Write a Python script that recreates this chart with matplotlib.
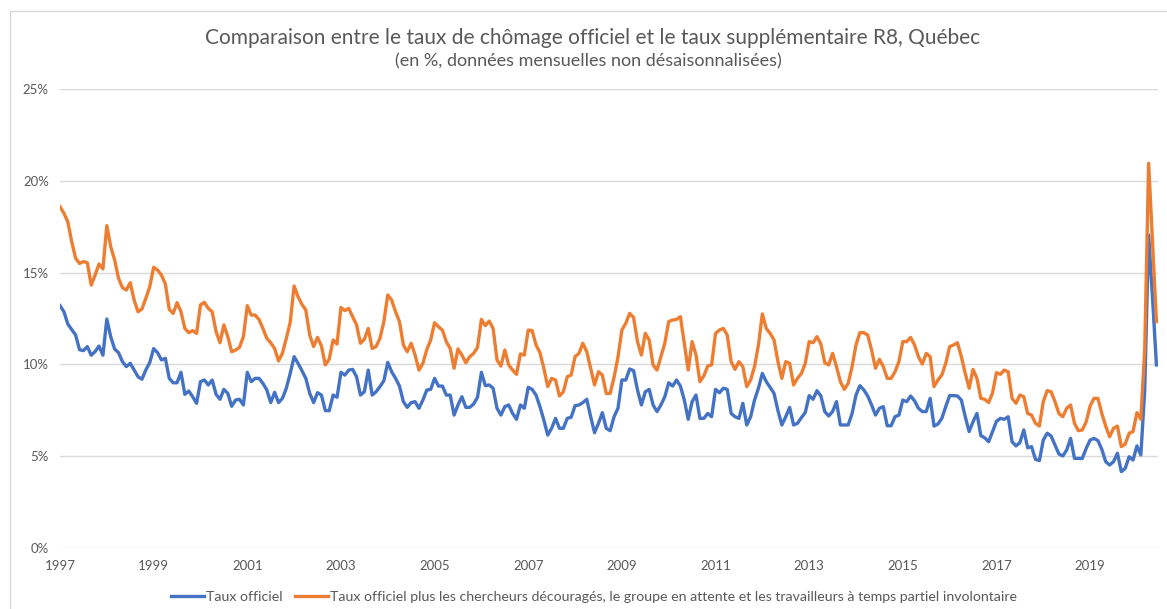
import matplotlib
matplotlib.use("Agg")
import matplotlib.pyplot as plt
from matplotlib.patches import Rectangle

plt.rcParams['font.family'] = ['Lato', 'DejaVu Sans']

# monthly values, Jan 1997 to Jun 2020 (%)
taux_officiel = [
    13.2, 12.87, 12.2, 11.9, 11.6, 10.8, 10.75, 10.97, 10.5, 10.7, 11.0, 10.5,      # 1997
    12.47, 11.5, 10.84, 10.64, 10.15, 9.88, 10.06, 9.7, 9.33, 9.19, 9.7, 10.1,      # 1998
    10.86, 10.64, 10.24, 10.33, 9.24, 9.0, 9.0, 9.57, 8.37, 8.55, 8.24, 7.88,       # 1999
    9.06, 9.15, 8.88, 9.15, 8.37, 8.1, 8.64, 8.42, 7.72, 8.06, 8.1, 7.79,           # 2000
    9.57, 9.06, 9.24, 9.24, 8.97, 8.61, 7.92, 8.48, 7.92, 8.15, 8.7, 9.51,          # 2001
    10.42, 10.06, 9.66, 9.24, 8.42, 7.92, 8.46, 8.33, 7.48, 7.48, 8.33, 8.21,       # 2002
    9.57, 9.42, 9.69, 9.73, 9.33, 8.33, 8.51, 9.69, 8.33, 8.51, 8.79, 9.11,         # 2003
    10.11, 9.6, 9.24, 8.82, 7.97, 7.66, 7.92, 7.97, 7.61, 8.06, 8.6, 8.64,          # 2004
    9.24, 8.82, 8.82, 8.33, 8.33, 7.24, 7.79, 8.24, 7.66, 7.66, 7.84, 8.21,         # 2005
    9.57, 8.84, 8.88, 8.7, 7.61, 7.24, 7.7, 7.79, 7.33, 7.01, 7.79, 7.61,           # 2006
    8.75, 8.64, 8.33, 7.7, 6.97, 6.15, 6.52, 7.06, 6.52, 6.52, 7.06, 7.12,          # 2007
    7.75, 7.79, 7.92, 8.1, 7.15, 6.28, 6.79, 7.37, 6.52, 6.39, 7.15, 7.61,          # 2008
    9.15, 9.15, 9.75, 9.66, 8.61, 7.79, 8.51, 8.64, 7.79, 7.43, 7.79, 8.24,         # 2009
    9.0, 8.82, 9.15, 8.82, 8.06, 7.01, 7.97, 8.33, 7.06, 7.06, 7.33, 7.15,          # 2010
    8.64, 8.46, 8.7, 8.64, 7.33, 7.15, 7.06, 7.88, 6.7, 7.15, 8.06, 8.7,            # 2011
    9.51, 9.06, 8.75, 8.42, 7.48, 6.7, 7.15, 7.66, 6.7, 6.79, 7.1, 7.38,            # 2012
    8.3, 8.1, 8.57, 8.28, 7.43, 7.19, 7.43, 7.97, 6.7, 6.7, 6.7, 7.33,              # 2013
    8.33, 8.84, 8.61, 8.28, 7.79, 7.24, 7.61, 7.7, 6.66, 6.66, 7.15, 7.24,          # 2014
    8.06, 7.97, 8.28, 8.02, 7.61, 7.43, 7.43, 8.15, 6.64, 6.75, 7.06, 7.7,          # 2015
    8.3, 8.3, 8.28, 8.06, 7.15, 6.34, 6.88, 7.33, 6.12, 6.0, 5.79, 6.35,            # 2016
    6.9, 7.06, 7.01, 7.15, 5.79, 5.56, 5.74, 6.43, 5.46, 5.52, 4.83, 4.76,          # 2017
    5.88, 6.25, 6.1, 5.61, 5.12, 5.01, 5.34, 5.97, 4.88, 4.88, 4.88, 5.43,          # 2018
    5.88, 5.97, 5.85, 5.37, 4.7, 4.52, 4.7, 5.16, 4.16, 4.34, 4.97, 4.79,           # 2019
    5.56, 5.07, 8.6, 17.05, 13.6, 9.97,                                             # 2020
]

taux_r8 = [
    18.59, 18.23, 17.77, 16.68, 15.78, 15.5, 15.6, 15.54, 14.32, 14.87, 15.47, 15.2,
    17.56, 16.41, 15.69, 14.69, 14.18, 14.05, 14.45, 13.5, 12.87, 13.02, 13.6, 14.23,
    15.29, 15.14, 14.87, 14.38, 13.0, 12.78, 13.36, 12.87, 11.96, 11.73, 11.84, 11.69,
    13.24, 13.38, 13.05, 12.87, 11.78, 11.18, 12.15, 11.51, 10.69, 10.78, 10.93, 11.51,
    13.2, 12.69, 12.69, 12.45, 11.96, 11.42, 11.18, 10.87, 10.19, 10.6, 11.42, 12.29,
    14.27, 13.69, 13.27, 12.96, 11.6, 10.97, 11.47, 11.0, 9.97, 10.29, 11.33, 11.11,
    13.1, 12.93, 13.05, 12.6, 12.15, 11.15, 11.37, 11.96, 10.87, 10.97, 11.42, 12.33,
    13.78, 13.5, 12.87, 12.33, 11.06, 10.69, 11.15, 10.51, 9.69, 10.06, 10.8, 11.33,
    12.27, 12.05, 11.87, 11.24, 10.87, 9.79, 10.84, 10.51, 10.09, 10.42, 10.6, 10.93,
    12.45, 12.11, 12.36, 11.96, 10.24, 9.91, 10.78, 9.97, 9.69, 9.46, 10.57, 10.51,
    11.87, 11.84, 11.06, 10.64, 9.79, 8.79, 9.24, 9.15, 8.28, 8.51, 9.33, 9.42,
    10.42, 10.6, 11.15, 10.69, 9.79, 8.88, 9.6, 9.42, 8.42, 8.42, 9.3, 10.4,
    11.87, 12.24, 12.78, 12.56, 11.24, 10.51, 11.69, 11.33, 9.97, 9.69, 10.42, 11.15,
    12.33, 12.42, 12.45, 12.6, 11.15, 9.69, 11.24, 10.51, 9.06, 9.37, 9.91, 9.97,
    11.69, 11.87, 11.96, 11.6, 10.15, 9.73, 10.15, 9.88, 8.79, 9.15, 9.88, 11.06,
    12.75, 11.96, 11.69, 11.33, 10.15, 9.24, 10.15, 10.06, 8.88, 9.24, 9.5, 10.06,
    11.24, 11.18, 11.51, 11.11, 10.09, 9.97, 10.6, 9.88, 9.06, 8.64, 8.97, 9.88,
    11.06, 11.73, 11.73, 11.6, 10.78, 9.79, 10.28, 9.88, 9.24, 9.24, 9.6, 10.15,
    11.24, 11.24, 11.47, 11.06, 10.42, 10.02, 10.6, 10.42, 8.79, 9.15, 9.42, 10.06,
    10.97, 11.06, 11.18, 10.42, 9.51, 8.7, 9.73, 9.24, 8.15, 8.1, 7.92, 8.45,
    9.55, 9.46, 9.69, 9.6, 8.15, 7.88, 8.33, 8.24, 7.33, 7.24, 6.79, 6.64,
    7.97, 8.57, 8.51, 7.97, 7.33, 7.15, 7.61, 7.79, 6.79, 6.39, 6.43, 6.88,
    7.73, 8.15, 8.15, 7.33, 6.64, 6.06, 6.52, 6.64, 5.52, 5.66, 6.25, 6.34,
    7.37, 7.01, 10.8, 20.95, 16.6, 12.33,
]

year_labels = ['1997', '1999', '2001', '2003', '2005', '2007',
               '2009', '2011', '2013', '2015', '2017', '2019']
y_ticks = [0, 5, 10, 15, 20, 25]

label_officiel = 'Taux officiel'
label_r8 = ('Taux officiel plus les chercheurs découragés, le groupe en attente '
            'et les travailleurs à temps partiel involontaire')

grey = '#595959'
W, H = 1167, 609

fig = plt.figure(figsize=(W / 100, H / 100), dpi=100)
fig.patches.append(Rectangle((10 / W, -0.1), 1.2, 1 - 11 / H + 0.1, transform=fig.transFigure,
                             fill=False, edgecolor='#d9d9d9', lw=1))

ax = fig.add_axes([60 / W, 1 - 548 / H, (1158 - 60) / W, (548 - 89) / H])

months = range(len(taux_officiel))
ax.plot(months, taux_officiel, color='#4472C4', lw=2.4, label=label_officiel, solid_joinstyle='round')
ax.plot(months, taux_r8, color='#ED7D31', lw=2.4, label=label_r8, solid_joinstyle='round')

ax.set_ylim(0, 25)
ax.set_xlim(0, 281.4)
ax.set_yticks(y_ticks)
ax.set_yticklabels([f'{t}%' for t in y_ticks])
ax.set_xticks([24 * k for k in range(len(year_labels))])
ax.set_xticklabels(year_labels)
ax.tick_params(axis='both', length=0, colors=grey, labelsize=9.5)
ax.tick_params(axis='x', pad=9)
ax.tick_params(axis='y', pad=8)
ax.grid(axis='y', color='#d9d9d9', lw=1)
ax.set_axisbelow(True)
for s in ax.spines.values():
    s.set_visible(False)

fig.text(593 / W, 1 - 38 / H, 'Comparaison entre le taux de chômage officiel et le taux supplémentaire R8, Québec',
         ha='center', va='center', fontsize=15, color=grey)
fig.text(588 / W, 1 - 61 / H, '(en %, données mensuelles non désaisonnalisées)',
         ha='center', va='center', fontsize=13, color=grey)

leg = fig.legend(loc='center', bbox_to_anchor=(594 / W, 1 - 597 / H), ncol=2, frameon=False,
                 fontsize=10.2, handlelength=2.3, handletextpad=0.15, columnspacing=0.9)
for t in leg.get_texts():
    t.set_color(grey)

fig.savefig('out.png', dpi=100)
